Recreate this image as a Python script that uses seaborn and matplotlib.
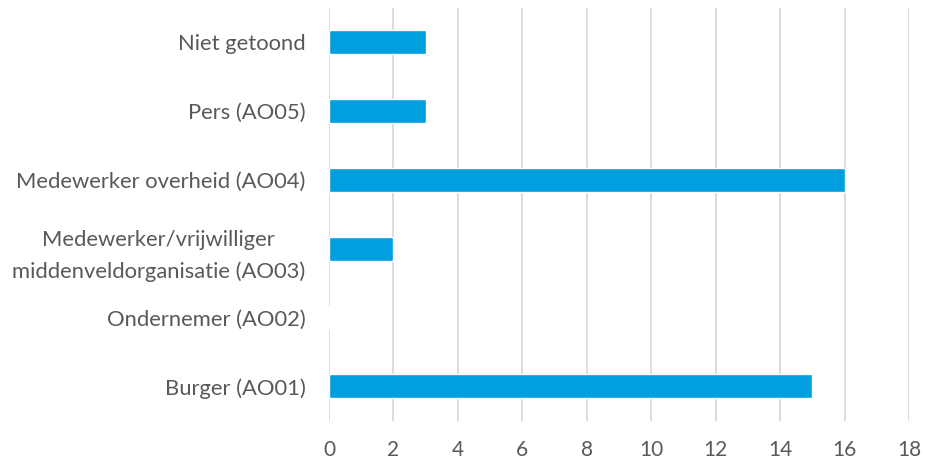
import matplotlib
matplotlib.use("Agg")
import matplotlib.pyplot as plt
import seaborn as sns
import pandas as pd

categories = ["Niet getoond", "Pers (AO05)", "Medewerker overheid (AO04)",
              "Medewerker/vrijwilliger\nmiddenveldorganisatie (AO03)",
              "Ondernemer (AO02)", "Burger (AO01)"]
values = [3, 3, 16, 2, 0, 15]
xticks = [0, 2, 4, 6, 8, 10, 12, 14, 16, 18]

sns.set_theme(style="white")
plt.rcParams['font.family'] = ['Lato', 'DejaVu Sans']

df = pd.DataFrame({"cat": categories, "val": values})

fig = plt.figure(figsize=(9.25, 4.66), dpi=100)
ax = fig.add_axes([0.3557, 0.097, 0.9827 - 0.3557, 0.886])
sns.barplot(data=df, x="val", y="cat", color="#009FE0", saturation=1,
            width=0.35, ax=ax, zorder=3)
ax.set_xlim(0, 18)
ax.set_xticks(xticks)
ax.set_xlabel("")
ax.set_ylabel("")
ax.grid(axis="x", color="#D9D9D9", linewidth=1.3, zorder=0)
ax.set_axisbelow(True)
for s in ax.spines.values():
    s.set_visible(False)
ax.tick_params(axis="x", labelsize=15, labelcolor="#595959", length=0, pad=14)
ax.tick_params(axis="y", labelsize=15.8, labelcolor="#595959", length=0, pad=17)
for lbl in ax.get_yticklabels():
    lbl.set_horizontalalignment("right")
    lbl.set_multialignment("center")
    lbl.set_linespacing(1.65)
fig.savefig("out.png", dpi=100)
